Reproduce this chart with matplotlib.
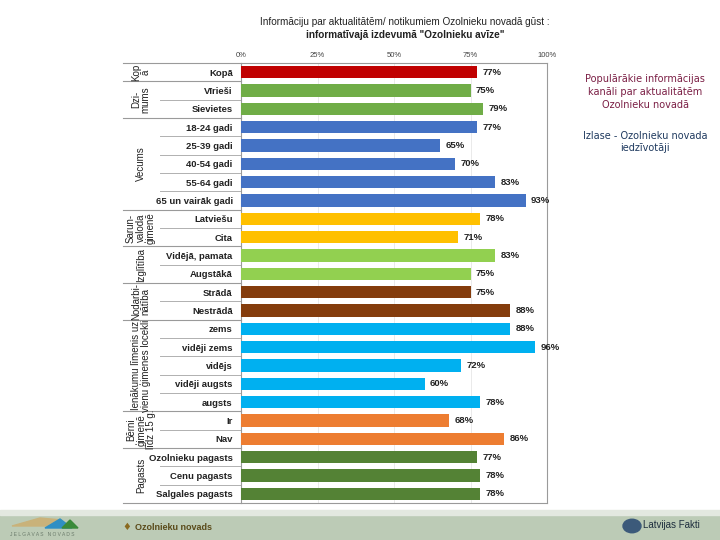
import matplotlib.pyplot as plt
import matplotlib.patches as patches
from matplotlib.transforms import blended_transform_factory

plt.rcParams['font.family'] = ['Liberation Sans', 'DejaVu Sans']

# dati
kategorijas = ['Kopā', 'Vīrieši', 'Sievietes', '18-24 gadi', '25-39 gadi', '40-54 gadi',
               '55-64 gadi', '65 un vairāk gadi', 'Latviešu', 'Cita', 'Vidējā, pamata',
               'Augstākā', 'Strādā', 'Nestrādā', 'zems', 'vidēji zems', 'vidējs',
               'vidēji augsts', 'augsts', 'Ir', 'Nav', 'Ozolnieku pagasts',
               'Cenu pagasts', 'Salgales pagasts']
vertibas = [77, 75, 79, 77, 65, 70, 83, 93, 78, 71, 83, 75, 75, 88, 88, 96, 72, 60, 78,
            68, 86, 77, 78, 78]
grupas = ['Kop\nā', 'Dzi-\nmums', 'Vecums', 'Sarun-\nvaloda\nģimenē', 'Izglītība',
          'Nodarbi-\nnātība', 'Ienākumu līmenis uz\nvienu ģimenes locekli',
          'Bērni\nģimenē\nlīdz 15 g.', 'Pagasts']
grupu_izmeri = [1, 2, 5, 2, 2, 2, 5, 2, 3]
grupu_krasas = ['#C00000', '#70AD47', '#4472C4', '#FFC000', '#92D050', '#843C0C',
                '#00B0F0', '#ED7D31', '#548235']
ass_atzimes = ['0%', '25%', '50%', '75%', '100%']

krasas = []
for k, n in zip(grupu_krasas, grupu_izmeri):
    krasas += [k] * n

fig = plt.figure(figsize=(7.2, 5.4), dpi=100)
ax = fig.add_axes([241 / 720, 1 - 503 / 540, 306 / 720, 440 / 540])

y = list(range(len(kategorijas)))
ax.barh(y, vertibas, color=krasas, height=0.66, zorder=3)
for yi, v in zip(y, vertibas):
    ax.text(v + 1.8, yi, f'{v}%', va='center', ha='left', fontsize=6.8,
            fontweight='bold', color='#222222')

ax.set_xlim(0, 100)
ax.set_ylim(len(kategorijas) - 0.5, -0.5)
ax.set_xticks([0, 25, 50, 75, 100])
ax.set_xticklabels(ass_atzimes, fontsize=5.5, color='#444444')
ax.xaxis.tick_top()
ax.tick_params(axis='x', length=0, pad=3)
ax.set_yticks(y)
ax.set_yticklabels(kategorijas, fontsize=6.8, fontweight='bold', color='#222222')
ax.tick_params(axis='y', length=0, pad=6)
ax.grid(axis='x', color='#e6e6e6', linewidth=0.6, zorder=0)
for s in ax.spines.values():
    s.set_color('#9a9a9a')
    s.set_linewidth(0.8)

# grupu līnijas un nosaukumi
tr = blended_transform_factory(ax.transAxes, ax.transData)
x_ara = (123 - 241) / 306
x_ieksa = (160 - 241) / 306
ax.plot([x_ara, 0], [-0.5, -0.5], transform=tr, color='#9a9a9a', lw=0.8, clip_on=False)
sakums = 0
for nos, n in zip(grupas, grupu_izmeri):
    for j in range(1, n):
        ax.plot([x_ieksa, 0], [sakums + j - 0.5] * 2, transform=tr, color='#b0b0b0',
                lw=0.7, clip_on=False)
    beigas = sakums + n - 0.5
    ax.plot([x_ara, 0], [beigas, beigas], transform=tr, color='#9a9a9a', lw=0.8,
            clip_on=False)
    t = ax.text((141 - 241) / 306, sakums + (n - 1) / 2, nos, transform=tr, rotation=90,
                ha='center', va='center', fontsize=7, color='#222222', linespacing=0.95)
    # teksts, kas neietilpst, tiek nogriezts kā oriģinālā
    klips = patches.Rectangle((x_ara, sakums - 0.5), x_ieksa - x_ara, n, transform=tr,
                              fill=False, visible=False)
    ax.add_patch(klips)
    klips.set_clip_on(False)
    t.set_clip_path(klips)
    sakums += n

# virsraksts
fig.text(405 / 720, 1 - 22 / 540, 'Informāciju par aktualitātēm/ notikumiem Ozolnieku novadā gūst :',
         ha='center', va='center', fontsize=7.2, color='#222222')
fig.text(405 / 720, 1 - 35 / 540, 'informatīvajā izdevumā "Ozolnieku avīze"',
         ha='center', va='center', fontsize=7.2, fontweight='bold', color='#222222')

# teksts labajā pusē
fig.text(645 / 720, 1 - 92 / 540, 'Populārākie informācijas\nkanāli par aktualitātēm\nOzolnieku novadā',
         ha='center', va='center', fontsize=7, color='#7b1f45', linespacing=1.35,
         family='DejaVu Sans')
fig.text(645 / 720, 1 - 142 / 540, 'Izlase - Ozolnieku novada\niedzīvotāji',
         ha='center', va='center', fontsize=7, color='#1f3a5f', linespacing=1.35,
         family='DejaVu Sans')

# apakšējā josla
fig.patches.append(patches.Rectangle((0, 0), 1, 25 / 540, transform=fig.transFigure,
                                     color='#bccbb6', zorder=0))
fig.patches.append(patches.Rectangle((0, 25 / 540), 1, 5 / 540, transform=fig.transFigure,
                                     color='#e3e8e0', zorder=0))
fig.patches.append(patches.Polygon([(12 / 720, 14 / 540), (40 / 720, 22 / 540),
                                    (62 / 720, 20 / 540), (48 / 720, 14 / 540)],
                                   closed=True, transform=fig.transFigure, color='#c9b27a'))
fig.patches.append(patches.Polygon([(45 / 720, 12 / 540), (60 / 720, 21 / 540),
                                    (72 / 720, 12 / 540)],
                                   closed=True, transform=fig.transFigure, color='#2f8fc4'))
fig.patches.append(patches.Polygon([(62 / 720, 12 / 540), (70 / 720, 20 / 540),
                                    (78 / 720, 12 / 540)],
                                   closed=True, transform=fig.transFigure, color='#3a8a3a'))
fig.text(42 / 720, 6 / 540, 'J E L G A V A S   N O V A D S', ha='center', va='center',
         fontsize=3.5, color='#6a7a6a')
fig.text(127 / 720, 13 / 540, '♦', ha='center', va='center', fontsize=7, color='#8a6a20',
         family='DejaVu Sans')
fig.text(135 / 720, 13 / 540, 'Ozolnieku novads', ha='left', va='center', fontsize=6.5,
         fontweight='bold', color='#5a4a1a')
fig.patches.append(patches.Circle((632 / 720, 14 / 540), 9 / 720, transform=fig.transFigure,
                                  color='#3c5a7a'))
fig.text(643 / 720, 15 / 540, 'Latvijas Fakti', ha='left', va='center', fontsize=7,
         color='#1e2e3e')

fig.savefig('out.png', dpi=100)
